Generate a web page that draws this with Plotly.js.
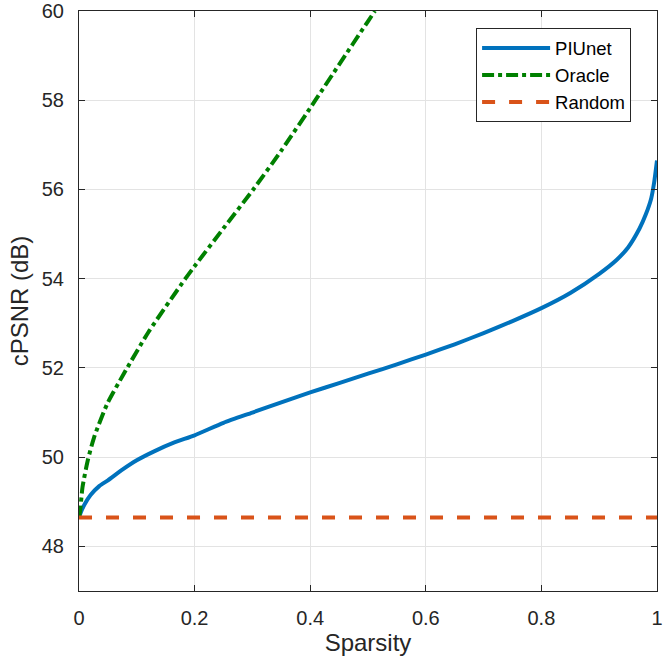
<!DOCTYPE html>
<html>
<head>
<meta charset="utf-8">
<script src="https://cdn.plot.ly/plotly-3.0.1.min.js"></script>
<style>html,body{margin:0;padding:0;background:#fff;}#chart{width:664px;height:660px;}</style>
</head>
<body>
<div id="chart"></div>
<script>
// ---- data ----
const seriesNames = ["PIUnet", "Oracle", "Random"];

const piunetX = [0, 0.005, 0.01, 0.02, 0.035, 0.05, 0.075, 0.1, 0.13, 0.165, 0.2, 0.25, 0.3, 0.35, 0.4, 0.45, 0.5, 0.55, 0.6, 0.65, 0.7, 0.75, 0.8, 0.85, 0.9, 0.93, 0.95, 0.97, 0.98, 0.99, 0.995, 1];
const piunetY = [48.65, 48.82, 48.95, 49.15, 49.35, 49.48, 49.72, 49.93, 50.13, 50.33, 50.49, 50.77, 51.0, 51.23, 51.45, 51.66, 51.87, 52.08, 52.30, 52.53, 52.78, 53.05, 53.34, 53.68, 54.11, 54.42, 54.7, 55.13, 55.42, 55.8, 56.15, 56.65];

const oracleX = [0, 0.002, 0.006, 0.015, 0.026, 0.049, 0.078, 0.12, 0.184, 0.2, 0.25, 0.3015, 0.35, 0.409, 0.45, 0.5, 0.512];
const oracleY = [48.65, 48.8, 49.32, 49.92, 50.44, 51.2, 51.88, 52.8, 54.0, 54.28, 55.13, 56.0, 56.87, 58.0, 58.8, 59.77, 60.0];

const randomX = [0, 1];
const randomY = [48.65, 48.65];

const xTicks = [0, 0.2, 0.4, 0.6, 0.8, 1];
const xTickText = ["0", "0.2", "0.4", "0.6", "0.8", "1"];
const yTicks = [48, 50, 52, 54, 56, 58, 60];
const yTickText = ["48", "50", "52", "54", "56", "58", "60"];

// ---- chart ----
const FONT = "Liberation Sans, Arial, Helvetica, sans-serif";
const traces = [
  {x: piunetX, y: piunetY, name: seriesNames[0], type: "scatter", mode: "lines",
   line: {color: "#0072BD", width: 4, shape: "spline", smoothing: 0.6}, legendgroup: "a"},
  {x: oracleX, y: oracleY, name: seriesNames[1], type: "scatter", mode: "lines",
   line: {color: "#008000", width: 4, dash: "12px,4px,4px,4px", shape: "spline", smoothing: 0.6}, legendgroup: "b"},
  {x: randomX, y: randomY, name: seriesNames[2], type: "scatter", mode: "lines",
   line: {color: "#D95319", width: 4, dash: "13px,14px"}, legendgroup: "c"}
];

const axisCommon = {
  showline: true, mirror: "ticks", linecolor: "#262626", linewidth: 1,
  ticks: "inside", ticklen: 6, tickcolor: "#262626", tickwidth: 1,
  showgrid: true, gridcolor: "#e3e3e3", gridwidth: 1, zeroline: false,
  ticklabeloverflow: "allow",
  tickfont: {family: FONT, size: 20, color: "#262626"}
};

const layout = {
  width: 664, height: 660,
  margin: {l: 79, r: 7, t: 11, b: 69},
  paper_bgcolor: "#ffffff", plot_bgcolor: "#ffffff",
  font: {family: FONT, color: "#262626"},
  showlegend: true,
  xaxis: Object.assign({}, axisCommon, {
    range: [-0.00001, 1.00001], tickvals: xTicks, ticktext: xTickText,
    ticklabelstandoff: 9,
    title: {text: "Sparsity", font: {family: FONT, size: 24, color: "#262626"}, standoff: 6}
  }),
  yaxis: Object.assign({}, axisCommon, {
    range: [46.9999, 60.0001], tickvals: yTicks, ticktext: yTickText,
    ticklabelstandoff: 10,
    title: {text: "cPSNR (dB)", font: {family: FONT, size: 24, color: "#262626"}, standoff: 6}
  }),
  legend: {
    x: 0.687, y: 0.97, xanchor: "left", yanchor: "top",
    bgcolor: "#ffffff", bordercolor: "#262626", borderwidth: 1,
    font: {family: FONT, size: 18.5, color: "#000000"},
    traceorder: "grouped", tracegroupgap: 0, itemwidth: 68
  }
};

Plotly.newPlot("chart", traces, layout, {displayModeBar: false, staticPlot: true});
</script>
</body>
</html>
